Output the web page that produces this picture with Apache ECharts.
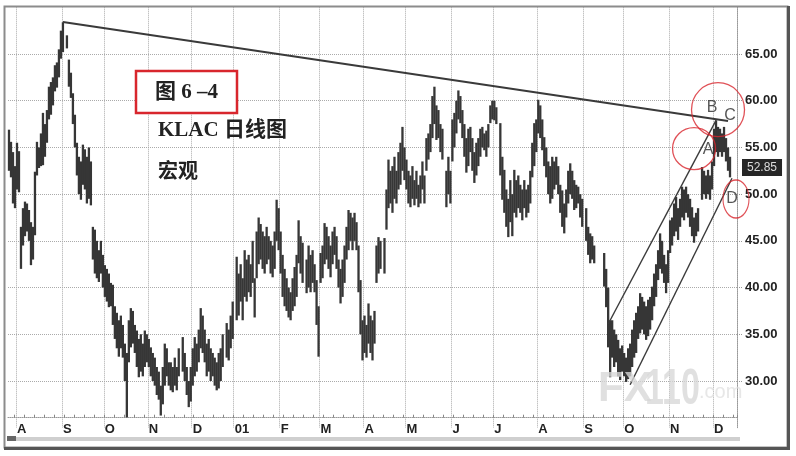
<!DOCTYPE html>
<html><head><meta charset="utf-8">
<script src="https://cdn.jsdelivr.net/npm/echarts@6/dist/echarts.min.js"></script>
<style>html,body{margin:0;padding:0;background:#fff}#c{width:796px;height:456px}</style>
</head><body><div id="c"></div>
<script>
// ---- data ----
const startDate = '2000-07-26', endDate = '2001-12-18';
const monthLabels = ['A','S','O','N','D','01','F','M','A','M','J','J','A','S','O','N','D'];
const lows = [
 52.5,51.8,49.0,48.5,
 50.5,50.2,42.0,44.5,45.5,46.0,45.0,42.4,43.0,45.6,52.0,52.8,53.0,53.1,54.0,55.5,58.0,58.5,59.5,61.0,61.4,62.5,64.5,
 65.2,null,65.6,61.5,60.3,57.5,55.0,52.0,50.0,49.4,51.0,50.5,49.0,49.5,48.8,43.0,41.5,41.0,40.6,41.5,40.0,
 39.0,38.5,37.9,38.0,36.0,34.5,33.5,32.6,33.5,32.5,30.0,26.1,32.0,33.6,34.0,33.0,31.5,30.4,31.0,30.5,31.5,32.0,
 31.5,30.5,30.0,29.5,28.5,28.0,26.3,27.5,29.5,30.5,29.5,29.0,28.8,29.5,29.0,30.5,null,31.0,30.0,28.5,27.2,27.8,
 29.5,30.5,31.0,32.0,33.5,33.0,32.0,30.5,31.0,30.0,30.5,29.5,29.0,29.2,30.0,31.5,null,32.5,32.2,33.5,34.5,
 null,36.5,37.0,38.5,36.5,39.0,38.5,39.5,39.0,40.5,36.8,41.0,42.5,43.0,42.0,41.5,42.5,43.0,41.5,41.1,42.0,45.0,44.0,
 41.5,39.0,38.0,37.5,36.8,36.5,37.5,38.0,39.0,42.6,41.5,40.5,null,39.4,40.0,39.5,40.5,39.5,36.0,32.6,
 40.5,41.0,42.5,43.0,42.0,41.1,42.5,43.5,42.0,40.0,38.3,39.0,40.5,43.0,44.0,45.0,44.0,45.0,44.0,39.5,35.0,32.2,
 33.0,32.5,34.0,33.0,32.2,34.0,40.5,41.5,42.0,null,41.5,46.2,48.5,49.0,48.0,49.5,49.0,50.5,51.0,52.5,51.5,
 50.5,49.0,48.6,49.5,48.8,49.5,48.6,49.0,50.5,49.0,52.5,53.7,54.5,56.0,57.5,55.8,56.0,54.5,53.7,null,48.6,50.0,49.0,
 53.5,55.0,56.5,58.0,57.6,56.0,54.0,52.3,53.0,54.5,52.5,51.2,52.0,53.0,54.0,55.0,54.7,54.0,55.0,57.6,58.0,
 57.9,57.5,null,52.0,49.4,48.0,46.5,45.4,47.0,45.5,48.0,47.5,48.5,48.0,47.2,48.5,47.5,48.0,49.0,51.8,53.0,54.5,
 56.5,56.0,54.7,53.0,51.8,50.0,49.0,49.5,50.5,51.0,50.0,48.0,46.5,45.8,47.5,49.0,50.0,49.5,48.3,48.5,49.0,47.5,46.5,
 null,45.0,43.5,42.6,43.0,42.6,null,null,null,null,40.1,37.9,33.6,30.4,32.5,31.5,32.0,30.5,30.1,31.0,
 30.5,29.9,30.2,30.5,31.5,32.5,33.0,34.5,35.1,35.5,35.0,34.4,34.8,35.5,36.5,38.0,39.0,40.8,42.0,41.5,40.5,39.4,40.5,
 43.7,44.5,45.5,46.0,45.1,46.5,47.5,47.2,48.0,47.5,46.5,45.5,44.8,45.5,46.0,null,49.4,50.0,49.5,50.0,49.4,50.5,
 53.0,54.5,54.0,54.5,54.0,54.5,53.5,52.5,51.8
];
const highs = [
 56.9,55.6,54.5,53.0,
 55.5,54.6,46.5,48.5,49.2,49.0,48.3,47.0,46.5,52.4,55.6,55.0,56.5,58.7,57.5,59.0,61.5,62.0,62.5,63.8,64.1,65.5,67.5,
 68.4,null,67.0,64.4,63.0,60.8,58.5,55.5,54.0,53.5,55.3,54.8,54.0,55.0,53.5,46.5,46.2,45.0,44.0,45.0,43.5,
 42.4,42.0,41.5,40.5,40.3,38.0,37.3,36.5,37.0,36.0,34.0,33.0,36.5,37.8,37.5,36.0,35.4,34.5,35.0,34.0,35.4,35.0,
 34.5,33.6,33.0,32.5,31.5,31.0,29.5,31.5,34.0,33.5,32.0,32.0,31.5,32.5,31.5,33.5,null,34.7,33.0,31.5,30.0,31.5,
 33.5,34.7,34.0,35.5,37.8,37.0,35.5,34.0,34.5,33.5,33.0,32.5,32.0,33.0,33.5,35.0,null,36.2,35.5,37.0,38.5,
 null,43.3,41.5,42.5,41.0,44.0,43.0,43.5,42.5,45.0,41.0,46.0,47.5,46.8,46.0,45.5,46.5,45.5,45.0,44.5,46.0,49.4,48.5,
 46.0,43.5,42.0,41.0,40.0,39.5,41.0,42.2,43.5,47.2,45.5,44.8,null,43.0,44.5,43.5,44.0,42.5,40.8,38.0,
 43.7,44.5,46.9,46.5,45.5,44.5,46.0,46.5,45.5,43.0,42.0,43.0,44.5,46.5,48.3,48.0,47.5,48.0,47.0,44.5,40.8,36.5,
 37.0,36.0,38.3,37.0,36.5,37.5,44.5,45.4,45.0,null,45.3,50.5,53.7,52.5,53.0,54.0,52.5,54.5,55.5,57.2,55.0,
 53.7,52.5,52.0,53.0,51.5,52.5,51.0,52.0,53.5,52.0,56.0,56.5,57.5,60.5,61.5,59.5,59.0,57.5,57.0,null,52.5,54.0,52.5,
 58.0,58.7,60.0,61.1,60.5,59.0,57.5,56.0,57.0,57.2,56.0,54.5,55.5,56.0,57.0,57.2,56.5,56.8,57.5,59.5,60.0,
 60.0,59.3,null,57.6,54.0,52.6,50.5,49.5,51.5,50.0,52.6,51.5,52.0,51.0,50.5,51.5,50.5,51.0,52.5,55.5,57.6,58.0,
 60.1,59.5,58.0,56.1,55.0,53.5,53.0,54.0,53.5,54.0,53.0,51.0,50.4,49.0,50.5,52.5,53.3,52.5,51.5,51.0,50.8,50.0,49.5,
 null,48.5,46.5,45.8,45.5,44.5,null,null,null,null,43.7,42.0,40.0,36.5,36.5,35.5,35.0,34.4,33.5,33.8,
 33.0,32.5,33.5,34.0,35.5,36.5,37.3,38.0,39.4,39.0,38.5,38.0,38.7,39.0,40.1,41.5,42.5,44.0,45.8,45.0,43.5,42.5,44.0,
 47.2,47.5,49.0,49.7,48.5,49.5,50.8,50.5,50.8,50.0,49.5,48.6,47.5,48.0,48.5,null,52.9,52.5,52.0,52.6,52.0,53.5,
 57.0,57.9,57.2,57.0,56.5,57.2,56.0,55.0,54.0
];
const lastClose = 52.85;
// trend lines: [category index, price]
const topLine = [[27, 68.43], [360, 57.82]];
const channelUpper = [[300, 36.1], [354, 57.9]];
const channelLower = [[311, 29.6], [362, 51.7]];
// annotation circles & letters (data coordinates)
const circleCenters = [[355, 59.04], [343, 54.87], [364, 49.48]];
const circleSizes = [[53, 54], [43, 42], [26, 38]];
const letterNames = ['B', 'C', 'A', 'D'];
const letterPoints = [[352, 59.29], [361, 58.36], [350, 54.72], [362, 49.48]];

// ---- build ----
const categories = [];
for (let d = new Date(startDate + 'T00:00:00Z'); d <= new Date(endDate + 'T00:00:00Z'); d.setUTCDate(d.getUTCDate() + 1)) {
  const wd = d.getUTCDay();
  if (wd > 0 && wd < 6) categories.push(d.toISOString().slice(0, 10));
}
const labelAt = {};
let mi = 0;
for (let k = 1; k < categories.length; k++) {
  if (categories[k].slice(5, 7) !== categories[k - 1].slice(5, 7)) labelAt[k] = monthLabels[mi++];
}
const barItems = [];
for (let i = 0; i < lows.length; i++) {
  if (lows[i] != null && highs[i] != null) barItems.push([i, lows[i], highs[i]]);
}

const chart = echarts.init(document.getElementById('c'), null, {renderer: 'canvas'});
const lineColor = '#3a3a3a';
const trend = (data, w) => ({
  type: 'line', data: data, symbol: 'none', silent: true, z: 4,
  lineStyle: {color: lineColor, width: w}, animation: false
});
const serif = "'Liberation Serif','Noto Sans CJK SC',serif";
const sans = "'Liberation Sans',Arial,sans-serif";

const option = {
  animation: false,
  backgroundColor: '#ffffff',
  grid: {left: 8, right: 59, top: 7.3, bottom: 28.3, outerBoundsMode: 'none', containLabel: false},
  xAxis: {
    type: 'category', data: categories, boundaryGap: true, offset: -10,
    axisLine: {show: true, lineStyle: {color: '#999', type: 'dotted', width: 1}},
    axisTick: {show: true, inside: true, length: 3,
      interval: (i, v) => new Date(v + 'T00:00:00Z').getUTCDay() === 1,
      lineStyle: {color: '#888'}},
    axisLabel: {show: true, interval: (i) => !!labelAt[i], formatter: (v, i) => labelAt[i] || '',
      align: 'left', fontWeight: 'bold', fontSize: 13, color: '#222', margin: 5, fontFamily: sans},
    splitLine: {show: true, interval: (i) => !!labelAt[i], lineStyle: {color: '#aaa', type: 'dotted', width: 1}}
  },
  yAxis: {
    type: 'value', position: 'right', min: 25, max: 70, interval: 5,
    axisLine: {show: true, lineStyle: {color: '#999', type: 'dotted'}},
    axisTick: {show: true, length: 5, lineStyle: {color: '#999', type: 'dotted'}},
    axisLabel: {showMinLabel: false, showMaxLabel: false, formatter: v => v.toFixed(2),
      fontSize: 13, fontWeight: 'bold', color: '#222', margin: 8, fontFamily: sans},
    splitLine: {show: true, showMinLine: false, showMaxLine: false,
      lineStyle: {color: '#aaa', type: 'dotted', width: 1}}
  },
  series: [
    {
      type: 'custom', data: barItems, encode: {x: 0, y: [1, 2]}, z: 3, silent: true,
      renderItem: function (params, api) {
        const top = api.coord([api.value(0), api.value(2)]);
        const bot = api.coord([api.value(0), api.value(1)]);
        const w = 2.3;
        return {type: 'rect',
          shape: {x: top[0] - w / 2, y: top[1], width: w, height: Math.max(1, bot[1] - top[1])},
          style: {fill: '#363636'}};
      }
    },
    Object.assign(trend(topLine, 2), {
      markLine: {
        silent: true, symbol: 'none', animation: false,
        lineStyle: {color: 'rgba(0,0,0,0)', width: 0},
        data: [{yAxis: lastClose}],
        label: {show: true, position: 'end', formatter: lastClose.toFixed(2), distance: 5,
          backgroundColor: '#262626', color: '#dcdcdc', fontSize: 12, padding: [3, 5, 2, 5], fontFamily: sans}
      }
    }),
    trend(channelUpper, 1.4),
    trend(channelLower, 1.4),
    {
      type: 'scatter', silent: true, z: 6, clip: false,
      data: circleCenters.map((c, k) => ({value: c, symbolSize: circleSizes[k]})),
      symbol: 'circle',
      itemStyle: {color: 'rgba(0,0,0,0)', borderColor: '#d8262d', borderWidth: 1.3}
    },
    {
      type: 'scatter', silent: true, z: 7, clip: false, symbolSize: 1,
      data: letterPoints.map((p, k) => ({value: p, name: letterNames[k]})),
      itemStyle: {color: 'rgba(0,0,0,0)'},
      label: {show: true, position: 'inside', formatter: '{b}', fontSize: 16, color: '#2a2a2a', fontFamily: sans}
    }
  ],
  graphic: [
    // outer frame
    {type: 'rect', z: 50, silent: true, shape: {x: 4.5, y: 6.5, width: 783, height: 441},
      style: {fill: 'none', stroke: '#8c8c8c', lineWidth: 2}},
    {type: 'line', z: 51, silent: true, shape: {x1: 788.5, y1: 6, x2: 788.5, y2: 449.5}, style: {stroke: '#555', lineWidth: 3}},
    {type: 'line', z: 51, silent: true, shape: {x1: 4, y1: 448.5, x2: 790, y2: 448.5}, style: {stroke: '#555', lineWidth: 3}},
    {type: 'rect', z: 50, silent: true, shape: {x: 14, y: 437, width: 726, height: 4}, style: {fill: '#cfcfcf'}},
    {type: 'rect', z: 50, silent: true, shape: {x: 7, y: 436, width: 9, height: 5}, style: {fill: '#666'}},
    // title box
    {type: 'rect', z: 20, silent: true, shape: {x: 136, y: 71, width: 101, height: 42},
      style: {fill: '#fff', stroke: '#d8262d', lineWidth: 2.5}},
    {type: 'text', z: 21, silent: true, x: 155, y: 82,
      style: {text: '图 6 –4', fill: '#222', fontSize: 21, fontWeight: 'bold', fontFamily: serif}},
    {type: 'text', z: 21, silent: true, x: 158, y: 120,
      style: {text: 'KLAC 日线图', fill: '#222', fontSize: 21, fontWeight: 'bold', fontFamily: serif}},
    {type: 'text', z: 21, silent: true, x: 158, y: 163,
      style: {text: '宏观', fill: '#222', fontSize: 20, fontWeight: 'bold', fontFamily: serif}},
    // watermark
    {type: 'text', z: 30, silent: true, x: 598, y: 368,
      style: {text: 'FX', fill: 'rgba(215,215,215,0.78)', fontSize: 42, fontWeight: 'bold', fontFamily: sans}},
    {type: 'text', z: 30, silent: true, x: 645, y: 365, scaleX: 0.68,
      style: {text: '110', fill: 'rgba(215,215,215,0.78)', fontSize: 50, fontWeight: 'bold', fontFamily: sans}},
    {type: 'text', z: 30, silent: true, x: 699, y: 382,
      style: {text: '.com', fill: 'rgba(225,225,225,0.8)', fontSize: 20, fontFamily: sans}}
  ]
};
chart.setOption(option);
</script>
</body></html>
